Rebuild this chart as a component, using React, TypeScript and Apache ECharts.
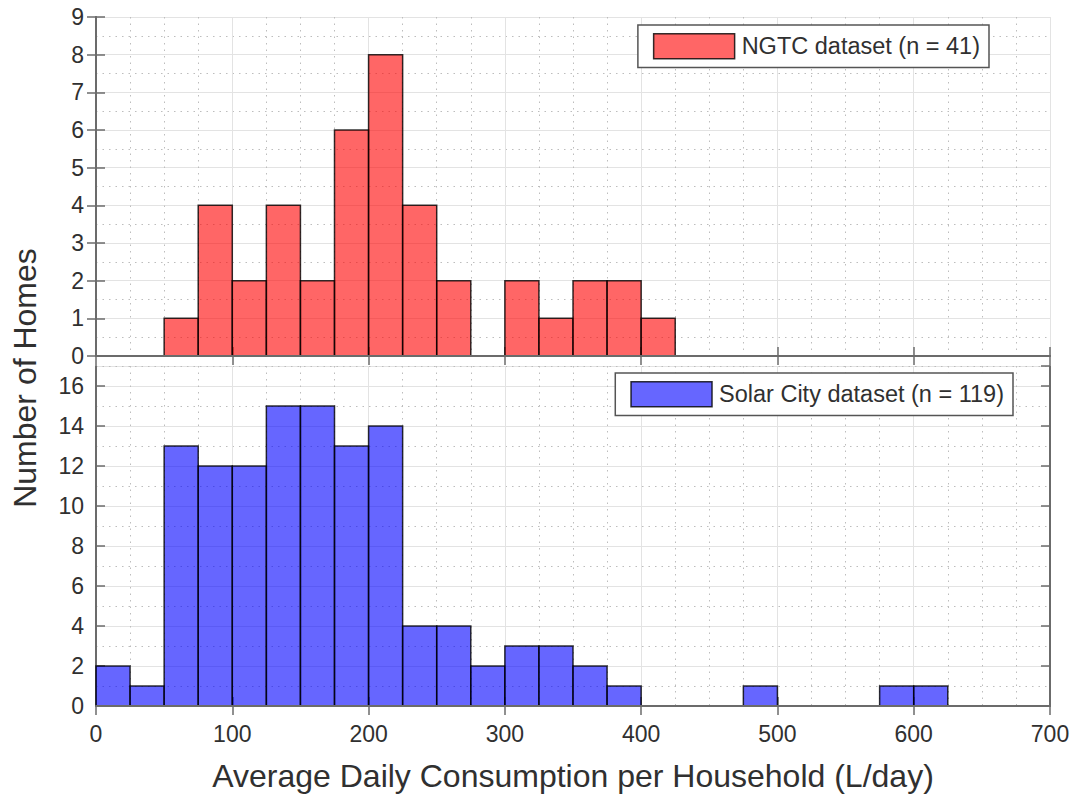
import React, { useEffect, useRef } from "react";
import * as echarts from "echarts";

// Histogram bins: width 25 L/day, from 0 to 700
const binWidth = 25;
const binStart = 0;
const ngtcCounts = [0, 0, 1, 4, 2, 4, 2, 6, 8, 4, 2, 0, 2, 1, 2, 2, 1, 0, 0, 0, 0, 0, 0, 0, 0, 0, 0, 0];
const solarCounts = [2, 1, 13, 12, 12, 15, 15, 13, 14, 4, 4, 2, 3, 3, 2, 1, 0, 0, 0, 1, 0, 0, 0, 1, 1, 0, 0, 0];
const ngtcName = "NGTC dataset (n = 41)";
const solarName = "Solar City dataset (n = 119)";
const xTicks = [0, 100, 200, 300, 400, 500, 600, 700];
const xTitle = "Average Daily Consumption per Household (L/day)";
const yTitle = "Number of Homes";

const FONT = "Liberation Sans";
const TEXT = "#303030";
const BOX = "#6b6b6b";
const MAJOR = "#e3e3e3";
const MINOR = "#bdbdbd";
const RED = "rgba(255,0,0,0.6)";
const BLUE = "rgba(0,0,255,0.6)";
const EDGE = "rgba(0,0,0,0.8)";

function toBins(counts: number[]) {
  const out: number[][] = [];
  counts.forEach((c, i) => {
    if (c > 0) out.push([binStart + i * binWidth, binStart + (i + 1) * binWidth, c]);
  });
  return out;
}

function renderBar(fill: string) {
  return (params: any, api: any) => {
    const x0 = api.value(0);
    const x1 = api.value(1);
    const c = api.value(2);
    const p0 = api.coord([x0, c]);
    const p1 = api.coord([x1, 0]);
    return {
      type: "rect",
      shape: { x: p0[0], y: p0[1], width: p1[0] - p0[0], height: p1[1] - p0[1] },
      style: { fill, stroke: EDGE, lineWidth: 1.5 },
    };
  };
}

export default function App() {
  const ref = useRef<HTMLDivElement>(null);
  useEffect(() => {
    if (!ref.current) return;
    const chart = echarts.init(ref.current, undefined, { renderer: "svg" });
    const grids = [
      { left: 96, top: 17, width: 954, height: 339 },
      { left: 96, top: 366, width: 954, height: 340 },
    ];
    const axisLine = { show: true, lineStyle: { color: BOX, width: 2 } };
    const tickIn = { show: true, inside: true, length: 9, lineStyle: { color: BOX, width: 1.5 } };
    const label = { fontFamily: FONT, fontSize: 23, color: TEXT };
    const xBase = (gridIndex: number, showLabels: boolean) => ({
      type: "value",
      gridIndex,
      min: 0,
      max: 700,
      interval: 100,
      position: "bottom",
      axisLine,
      axisTick: tickIn,
      axisLabel: showLabels
        ? { ...label, margin: 16, formatter: (v: number) => (xTicks.includes(v) ? String(v) : "") }
        : { show: false },
      splitLine: { show: true, lineStyle: { color: MAJOR, width: 1 } },
      minorTick: { show: false, splitNumber: 4 },
      minorSplitLine: { show: true, lineStyle: { color: MINOR, width: 1, type: [1.5, 5] } },
      z: 1,
    });
    const xTop = (gridIndex: number) => ({
      type: "value",
      gridIndex,
      min: 0,
      max: 700,
      interval: 100,
      position: "top",
      axisLine,
      axisTick: tickIn,
      axisLabel: { show: false },
      splitLine: { show: false },
      z: 10,
    });
    const option: any = {
      animation: false,
      grid: grids,
      xAxis: [xBase(0, false), xTop(0), xBase(1, true), xTop(1)],
      yAxis: [
        {
          type: "value",
          gridIndex: 0,
          min: 0,
          max: 9,
          interval: 1,
          position: "left",
          axisLine,
          axisTick: tickIn,
          axisLabel: { ...label, margin: 12 },
          splitLine: { show: true, lineStyle: { color: MAJOR, width: 1 } },
          minorTick: { show: false, splitNumber: 2 },
          minorSplitLine: { show: true, lineStyle: { color: MINOR, width: 1, type: [1.5, 5] } },
          z: 1,
        },
        {
          type: "value",
          gridIndex: 0,
          min: 0,
          max: 9,
          interval: 1,
          position: "right",
          axisLine,
          axisTick: tickIn,
          axisLabel: { show: false },
          splitLine: { show: false },
          z: 10,
        },
        {
          type: "value",
          gridIndex: 1,
          min: 0,
          max: 17,
          interval: 2,
          position: "left",
          axisLine,
          axisTick: tickIn,
          axisLabel: { ...label, margin: 12, showMaxLabel: false },
          splitLine: { show: true, lineStyle: { color: MAJOR, width: 1 } },
          z: 1,
        },
        {
          type: "value",
          gridIndex: 1,
          min: 0,
          max: 17,
          interval: 1,
          position: "right",
          axisLine: { show: false },
          axisTick: { show: false },
          axisLabel: { show: false },
          splitLine: {
            show: true,
            lineStyle: { color: ["transparent", MINOR], width: 1, type: [1.5, 5] },
          },
          z: 1,
        },
        {
          type: "value",
          gridIndex: 1,
          min: 0,
          max: 17,
          interval: 2,
          position: "right",
          axisLine,
          axisTick: tickIn,
          axisLabel: { show: false },
          splitLine: { show: false },
          z: 10,
        },
      ],
      legend: [
        {
          data: [
            {
              name: ngtcName,
              icon: "rect",
              itemStyle: { color: RED, borderColor: EDGE, borderWidth: 1.5 },
            },
          ],
          right: 89,
          top: 25,
          orient: "horizontal",
          padding: [8, 9, 8, 15],
          itemWidth: 81,
          itemHeight: 25,
          itemGap: 0,
          backgroundColor: "#ffffff",
          borderColor: "#555555",
          borderWidth: 1.5,
          textStyle: { fontFamily: FONT, fontSize: 23.5, color: TEXT, padding: [0, 0, 0, 2] },
          selectedMode: false,
          z: 20,
        },
        {
          data: [
            {
              name: solarName,
              icon: "rect",
              itemStyle: { color: BLUE, borderColor: EDGE, borderWidth: 1.5 },
            },
          ],
          right: 65,
          top: 373,
          orient: "horizontal",
          padding: [8, 9, 8, 15],
          itemWidth: 81,
          itemHeight: 25,
          itemGap: 0,
          backgroundColor: "#ffffff",
          borderColor: "#555555",
          borderWidth: 1.5,
          textStyle: { fontFamily: FONT, fontSize: 23.5, color: TEXT, padding: [0, 0, 0, 2] },
          selectedMode: false,
          z: 20,
        },
      ],
      graphic: [
        {
          type: "text",
          x: 25,
          y: 378,
          rotation: Math.PI / 2,
          style: {
            text: yTitle,
            fontFamily: FONT,
            fontSize: 32,
            fill: TEXT,
            textAlign: "center",
            textVerticalAlign: "middle",
          },
        },
        {
          type: "text",
          x: 573,
          y: 776,
          style: {
            text: xTitle,
            fontFamily: FONT,
            fontSize: 32,
            fill: TEXT,
            textAlign: "center",
            textVerticalAlign: "middle",
          },
        },
      ],
      series: [
        {
          name: ngtcName,
          type: "custom",
          xAxisIndex: 0,
          yAxisIndex: 0,
          itemStyle: { color: RED, borderColor: EDGE, borderWidth: 1.5 },
          encode: { x: [0, 1], y: 2 },
          data: toBins(ngtcCounts),
          renderItem: renderBar(RED),
          z: 5,
        },
        {
          name: solarName,
          type: "custom",
          xAxisIndex: 2,
          yAxisIndex: 2,
          itemStyle: { color: BLUE, borderColor: EDGE, borderWidth: 1.5 },
          encode: { x: [0, 1], y: 2 },
          data: toBins(solarCounts),
          renderItem: renderBar(BLUE),
          z: 5,
        },
      ],
    };
    chart.setOption(option);
    return () => chart.dispose();
  }, []);
  return (
    <div
      ref={ref}
      style={{ position: "absolute", left: 0, top: 0, width: 1078, height: 797, background: "#ffffff" }}
    />
  );
}
